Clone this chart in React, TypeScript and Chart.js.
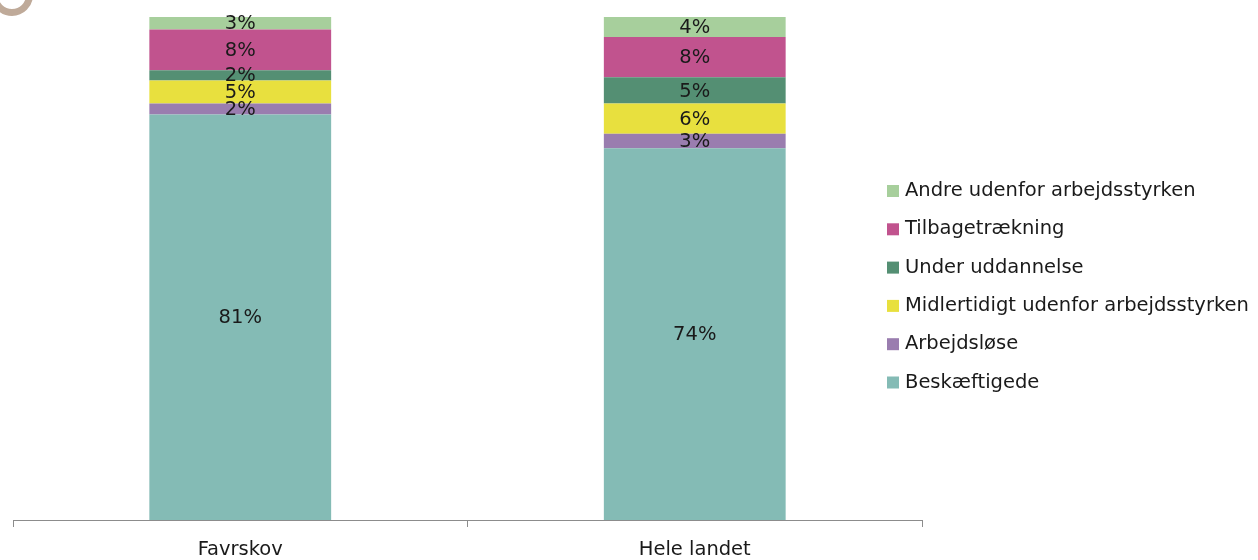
import React, { useEffect, useRef } from "react";
import { Chart, registerables } from "chart.js";

Chart.register(...registerables);

const categories = ["Favrskov", "Hele landet"];

const seriesNames = [
  "Beskæftigede",
  "Arbejdsløse",
  "Midlertidigt udenfor arbejdsstyrken",
  "Under uddannelse",
  "Tilbagetrækning",
  "Andre udenfor arbejdsstyrken",
];

const beskaeftigede = [80.6, 73.9];
const arbejdsloese = [2.2, 2.9];
const midlertidigt = [4.6, 6.0];
const underUddannelse = [2.0, 5.2];
const tilbagetraekning = [8.1, 8.0];
const andre = [2.5, 4.0];

const seriesColors = ["#84bbb5", "#9a7daf", "#e8e03e", "#548f73", "#c1538e", "#a7cf9c"];

const FONT = "'DejaVu Sans', sans-serif";
const FONT_SIZE = 19.5;
const TEXT_COLOR = "#1a1a1a";

const valueLabels = {
  id: "valueLabels",
  afterDatasetsDraw(chart: any) {
    const ctx = chart.ctx;
    ctx.save();
    ctx.font = `${FONT_SIZE}px ${FONT}`;
    ctx.fillStyle = TEXT_COLOR;
    ctx.textAlign = "center";
    ctx.textBaseline = "middle";
    chart.data.datasets.forEach((ds: any, i: number) => {
      const meta = chart.getDatasetMeta(i);
      if (meta.hidden) return;
      meta.data.forEach((el: any, j: number) => {
        const v = ds.data[j];
        const { x, y, base } = el.getProps(["x", "y", "base"], true);
        ctx.fillText(`${Math.round(v)}%`, x, (y + base) / 2 + 1);
      });
    });
    ctx.restore();
  },
};

const customLegend = {
  id: "customLegend",
  afterDraw(chart: any) {
    const ctx = chart.ctx;
    const items = chart.data.datasets.slice().reverse();
    const left = 887;
    const top = 191;
    const step = 38.3;
    const box = 12;
    ctx.save();
    ctx.font = `${FONT_SIZE}px ${FONT}`;
    ctx.textBaseline = "middle";
    ctx.textAlign = "left";
    items.forEach((ds: any, i: number) => {
      const cy = top + i * step;
      ctx.fillStyle = ds.backgroundColor;
      ctx.fillRect(left, cy - box / 2, box, box);
      ctx.fillStyle = TEXT_COLOR;
      ctx.fillText(ds.label, left + box + 6, cy);
    });
    ctx.restore();
  },
};

export default function App() {
  const canvasRef = useRef<HTMLCanvasElement | null>(null);

  useEffect(() => {
    if (!canvasRef.current) return;
    const seriesData = [beskaeftigede, arbejdsloese, midlertidigt, underUddannelse, tilbagetraekning, andre];
    const chart = new Chart(canvasRef.current, {
      type: "bar",
      data: {
        labels: categories,
        datasets: seriesNames.map((name, i) => ({
          label: name,
          data: seriesData[i],
          backgroundColor: seriesColors[i],
          borderWidth: 0,
          barPercentage: 0.4,
          categoryPercentage: 1.0,
        })),
      },
      options: {
        responsive: false,
        animation: false,
        layout: { padding: { left: 13, right: 336, top: 17, bottom: 0 } },
        plugins: {
          legend: { display: false },
          tooltip: { enabled: false },
        },
        scales: {
          x: {
            stacked: true,
            afterFit(scale: any) {
              scale.height = 40;
            },
            grid: {
              display: true,
              offset: true,
              drawOnChartArea: false,
              drawTicks: true,
              tickLength: 7,
              color: "#8c8c8c",
            },
            border: { display: true, color: "#8c8c8c", width: 1 },
            ticks: {
              padding: 11,
              color: TEXT_COLOR,
              font: { family: FONT, size: FONT_SIZE },
            },
          },
          y: {
            stacked: true,
            display: false,
            min: 0,
            max: 100,
          },
        },
      },
      plugins: [valueLabels, customLegend],
    });
    return () => chart.destroy();
  }, []);

  return (
    <div style={{ position: "fixed", left: 0, top: 0, width: 1258, height: 560, overflow: "hidden", background: "#fff" }}>
      <canvas ref={canvasRef} width={1258} height={560} style={{ display: "block" }} />
      <div
        style={{
          position: "absolute",
          left: -9,
          top: -26,
          width: 42,
          height: 42,
          boxSizing: "border-box",
          border: "7px solid #bfaa99",
          borderRadius: "50%",
        }}
      />
    </div>
  );
}
